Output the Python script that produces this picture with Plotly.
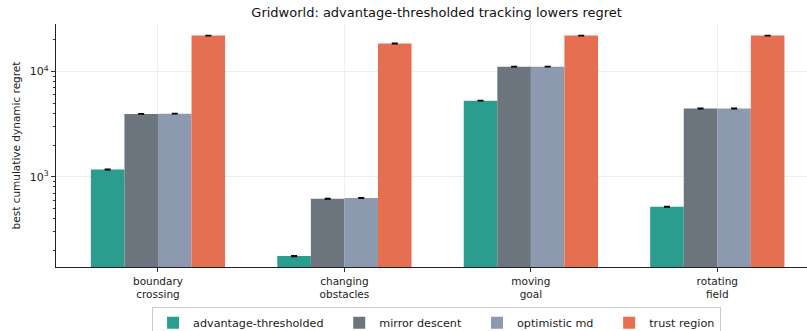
import plotly.graph_objects as go

# Environments (x categories) and best cumulative dynamic regret per method
categories = ["boundary<br>crossing", "changing<br>obstacles", "moving<br>goal", "rotating<br>field"]

advantage_thresholded = [1170, 176, 5290, 518]
mirror_descent = [3960, 617, 11150, 4450]
optimistic_md = [3980, 627, 11150, 4450]
trust_region = [22000, 18500, 22000, 22000]

# Small standard errors shown as error caps
adv_err = [10, 2, 40, 4]
md_err = [30, 5, 80, 35]
omd_err = [30, 5, 80, 35]
tr_err = [150, 130, 150, 150]

method_names = ["advantage-thresholded", "mirror descent", "optimistic md", "trust region"]
colors = ["#2a9d8f", "#6c757d", "#8d99ae", "#e76f51"]
values = [advantage_thresholded, mirror_descent, optimistic_md, trust_region]
errors = [adv_err, md_err, omd_err, tr_err]

font_family = "DejaVu Sans, sans-serif"
pad = "\u00a0" * 3  # spacing between legend entries

fig = go.Figure()
for i, (name, vals, errs, color) in enumerate(zip(method_names, values, errors, colors)):
    label = name + (pad if i < len(method_names) - 1 else "")
    fig.add_trace(go.Bar(
        name=label,
        x=list(range(len(categories))),
        y=vals,
        marker=dict(color=color, line=dict(width=0)),
        error_y=dict(type="data", array=errs, visible=True,
                     color="black", thickness=1.2, width=3),
    ))

fig.update_layout(
    width=807, height=331,
    margin=dict(l=56, r=0, t=24, b=64, autoexpand=False),
    barmode="group",
    bargap=0.28,
    bargroupgap=0,
    plot_bgcolor="white",
    paper_bgcolor="white",
    font=dict(family=font_family, size=10, color="#222"),
    title=dict(text="Gridworld: advantage-thresholded tracking lowers regret",
               x=0.541, xanchor="center", y=0.962, yanchor="middle",
               font=dict(size=13, color="#111")),
    legend=dict(orientation="h", x=0.541, xanchor="center",
                xref="container", yref="container",
                y=0.072, yanchor="top",
                bordercolor="#cccccc", borderwidth=1,
                font=dict(size=11.2, color="#222"),
                itemwidth=30, tracegroupgap=0),
    showlegend=True,
)

fig.update_xaxes(
    range=[-0.547, 3.481],
    tickvals=list(range(len(categories))),
    ticktext=categories,
    ticks="outside", ticklen=4, tickcolor="#333",
    showline=True, linecolor="#222", linewidth=1.2,
    showgrid=True, gridcolor="#eeeeee", gridwidth=1,
    tickfont=dict(size=10.5),
    zeroline=False,
)

fig.update_yaxes(
    type="log",
    range=[2.141, 4.453],
    tickvals=[1000, 10000],
    ticktext=["10<sup>3</sup>", "10<sup>4</sup>"],
    ticks="outside", ticklen=4, tickcolor="#333",
    showline=True, linecolor="#222", linewidth=1.2,
    showgrid=True, gridcolor="#eeeeee", gridwidth=1,
    tickfont=dict(size=11),
    minor=dict(ticks="outside", ticklen=2, tickcolor="#333",
               tickvals=[200, 300, 400, 500, 600, 700, 800, 900,
                         2000, 3000, 4000, 5000, 6000, 7000, 8000, 9000, 20000],
               showgrid=False),
    title=dict(text="best cumulative dynamic regret", font=dict(size=10.5), standoff=7),
    zeroline=False,
)

fig.write_html("out.html")
